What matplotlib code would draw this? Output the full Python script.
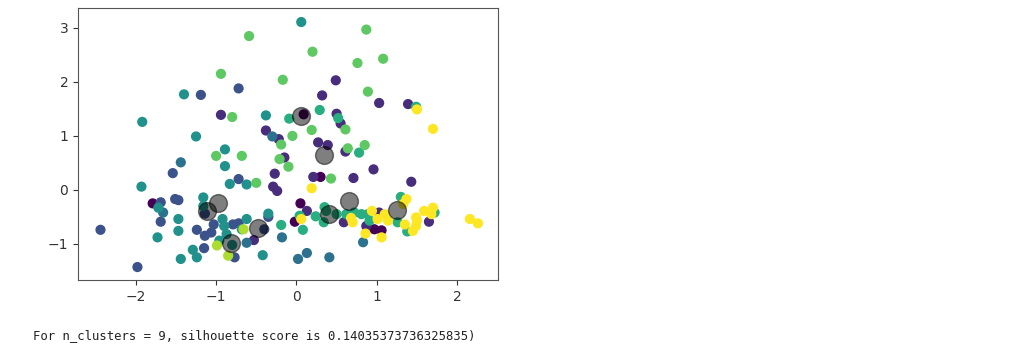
import matplotlib
matplotlib.use("Agg")
import matplotlib.pyplot as plt
import numpy as np

# points per cluster label
c0_x = [-1.79, 0.09, 0.30, 0.05, -0.02, 0.97, 1.06]
c0_y = [-0.25, 1.40, 0.24, -0.25, -0.59, -0.73, -0.75]

c1_x = [-0.94, -0.38, -0.22, 0.49, 0.32, 1.03, 1.39, 0.50, 0.55, 0.27, 0.39, 0.61,
        -0.15, -0.27, -0.29, -0.24, 0.21, 0.71, 0.96, 1.43, 0.13, 0.59, 0.87, 1.03,
        1.65, -0.53]
c1_y = [1.39, 1.10, 0.94, 2.03, 1.75, 1.61, 1.59, 1.41, 1.23, 0.88, 0.83, 0.71,
        0.60, 0.30, 0.06, -0.02, 0.24, 0.22, 0.38, 0.15, -0.39, -0.60, -0.67, -0.42,
        -0.59, -0.93]

c2_x = [-1.19, -0.72, -0.72, -1.54, -1.69, -1.51, -1.47, -1.14, -1.69, -1.24, -1.14,
        -1.15, -1.03, -1.06, -0.79, -0.72, -0.77, -2.44, -1.98, -0.35, -0.40]
c2_y = [1.76, 1.88, 0.20, 0.31, -0.23, -0.17, -0.19, -0.44, -0.59, -0.74, -0.85,
        -1.08, -0.64, -0.79, -0.64, -0.62, -1.25, -0.74, -1.43, -0.50, -0.73]

c3_x = [-0.30, -1.44, -1.66, -0.62, -0.18, 0.83, 0.13, 0.02, 0.41]
c3_y = [0.99, 0.51, -0.42, -0.98, -0.88, -0.97, -1.17, -1.28, -1.25]

c4_x = [0.06, -1.40, -1.92, -0.38, -1.25, -0.89, -0.89, -0.83, -0.62, -1.93, -1.72,
        -1.16, -1.16, -1.47, -1.47, -1.73, -0.92, -0.90, -0.62, -0.68, -0.96, -0.87,
        -1.29, -1.24, -1.44, -0.42, -0.35, -0.80]
c4_y = [3.11, 1.77, 1.26, 1.38, 0.99, 0.75, 0.44, 0.11, 0.10, 0.06, -0.33,
        -0.14, -0.30, -0.54, -0.76, -0.88, -0.54, -0.67, -0.54, -0.73, -0.94, -0.82,
        -1.11, -1.25, -1.28, -1.21, -0.44, -1.02]

c5_x = [-0.09, 0.29, 1.49, 0.52, 0.78, -0.19, 0.04, 0.08, 0.24, 0.37, 0.34, 0.35,
        0.62, 0.72, 0.81, 0.89, 0.91, 1.26, 1.30, 1.38, 1.72, 0.50]
c5_y = [1.32, 1.48, 1.54, 1.33, 0.69, -0.65, -0.48, -0.74, -0.49, -0.39, -0.60, -0.32,
        -0.45, -0.42, -0.45, -0.45, -0.57, -0.60, -0.13, -0.77, -0.42, -0.45]

c6_x = [-0.59, -0.94, -0.17, -0.80, -0.05, -0.19, 0.87, 0.20, 0.76, 1.08, 0.89,
        0.61, 0.19, 0.64, 0.85, -0.21, -0.10, 0.43, -0.50, -1.00, -0.68]
c6_y = [2.85, 2.15, 2.04, 1.35, 1.00, 0.84, 2.97, 2.56, 2.35, 2.43, 1.82,
        1.12, 1.11, 0.77, 0.83, 0.57, 0.43, 0.21, 0.13, 0.63, 0.63]

c7_x = [-0.99, -0.85, -0.66]
c7_y = [-1.03, -1.22, -0.73]

c8_x = [1.50, 1.70, 0.19, 0.06, 0.70, 0.68, 0.94, 0.86, 1.06, 1.10, 1.01, 1.14, 1.37,
        1.33, 1.35, 1.49, 1.49, 1.45, 1.59, 1.70, 1.68, 1.50, 2.16, 2.26]
c8_y = [1.49, 1.13, 0.03, -0.54, -0.60, -0.52, -0.39, -0.81, -0.88, -0.45, -0.54, -0.57, -0.17,
        -0.26, -0.64, -0.51, -0.67, -0.76, -0.39, -0.33, -0.45, -0.57, -0.54, -0.62]

# cluster centres
cent_x = [0.06, 0.34, 0.65, 0.41, 1.25, -0.98, -1.11, -0.82, -0.48]
cent_y = [1.37, 0.64, -0.20, -0.45, -0.37, -0.25, -0.39, -0.99, -0.70]

score_text = "For n_clusters = 9, silhouette score is 0.14035373736325835)"

xs = [c0_x, c1_x, c2_x, c3_x, c4_x, c5_x, c6_x, c7_x, c8_x]
ys = [c0_y, c1_y, c2_y, c3_y, c4_y, c5_y, c6_y, c7_y, c8_y]
X = np.concatenate([np.array(v) for v in xs])
Y = np.concatenate([np.array(v) for v in ys])
labels = np.concatenate([np.full(len(v), i) for i, v in enumerate(xs)])

fig = plt.figure(figsize=(10.15, 3.57), dpi=100)
ax = fig.add_axes([78 / 1015, 77 / 357, 420 / 1015, 272 / 357])
ax.scatter(X, Y, c=labels, s=40, cmap="viridis", vmin=0, vmax=8)
ax.scatter(cent_x, cent_y, c="black", s=165, alpha=0.5)

ax.set_xlim(-2.72, 2.51)
ax.set_ylim(-1.67, 3.37)
ax.set_xticks([-2, -1, 0, 1, 2])
ax.set_yticks([-1, 0, 1, 2, 3])
ax.tick_params(labelsize=10, colors="#333333")
for sp in ax.spines.values():
    sp.set_color("#555555")

fig.text(33 / 1015, 1 - 336 / 357, score_text, family="DejaVu Sans Mono",
         fontsize=8.8, va="center", ha="left", color="#222222")

fig.savefig("out.png", dpi=100)
